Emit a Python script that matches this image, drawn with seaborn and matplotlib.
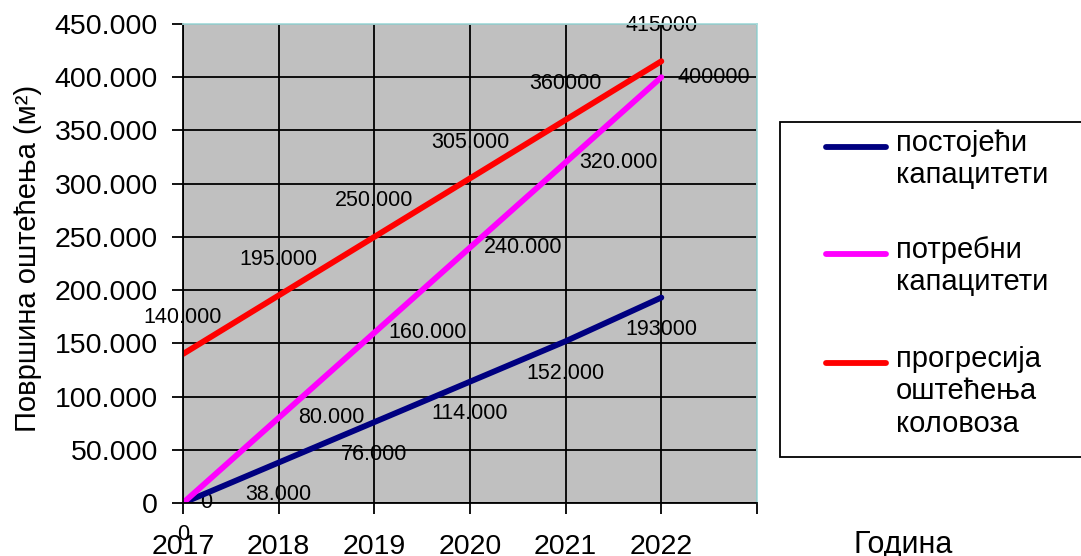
import matplotlib
matplotlib.use("Agg")
import matplotlib.pyplot as plt
import seaborn as sns
import pandas as pd
from matplotlib.lines import Line2D
from matplotlib.patches import Rectangle
from matplotlib.ticker import FuncFormatter

years = [2017, 2018, 2019, 2020, 2021, 2022]
postojeci = [0, 38000, 76000, 114000, 152000, 193000]
potrebni = [0, 80000, 160000, 240000, 320000, 400000]
progresija = [140000, 195000, 250000, 305000, 360000, 415000]

series_names = ["постојећи\nкапацитети", "потребни\nкапацитети", "прогресија\nоштећења\nколовоза"]
colors = ["#000080", "#ff00ff", "#ff0000"]

# data labels as they appear on the chart (mixed formatting in the original)
lbl_postojeci = ["0", "38.000", "76.000", "114.000", "152.000", "193000"]
lbl_potrebni = ["0", "80.000", "160.000", "240.000", "320.000", "400000"]
lbl_progresija = ["140.000", "195.000", "250.000", "305.000", "360000", "415000"]

rows = []
for name, vals in zip(series_names, [postojeci, potrebni, progresija]):
    for y, v in zip(years, vals):
        rows.append({"Година": y, "value": v, "series": name})
df = pd.DataFrame(rows)

sns.set_theme(style="ticks")
plt.rcParams['font.family'] = ['Liberation Sans', 'DejaVu Sans']
for k in ["text.color", "axes.labelcolor", "xtick.color", "ytick.color"]:
    plt.rcParams[k] = "black"

W, H = 1081, 556
fig = plt.figure(figsize=(W / 100, H / 100), dpi=100)
ax = fig.add_axes([183 / W, 1 - 503 / H, (757 - 183) / W, (503 - 24) / H])
ax.set_facecolor("#c0c0c0")

sns.lineplot(data=df, x="Година", y="value", hue="series", palette=colors,
             linewidth=4.2, ax=ax, legend=False, zorder=2)

ax.set_xlim(2017, 2023)
ax.set_ylim(0, 450000)
ax.set_xticks(years + [2023])
ax.set_xticklabels([str(y) for y in years] + [""])
ax.set_yticks(range(0, 450001, 50000))
ax.yaxis.set_major_formatter(FuncFormatter(lambda v, p: "0" if v == 0 else f"{int(v):,}".replace(",", ".")))

ax.set_axisbelow("line")
ax.grid(True, color="black", linewidth=1.3)
ax.tick_params(axis="both", direction="out", length=8, width=1.3, color="black", labelsize=20.5)
ax.tick_params(axis="x", pad=14)
ax.tick_params(axis="y", pad=10)
for s in ["left", "bottom"]:
    ax.spines[s].set_color("black")
    ax.spines[s].set_linewidth(1.3)
for s in ["top", "right"]:
    ax.spines[s].set_color("#a8dcdc")
    ax.spines[s].set_linewidth(1.3)

ax.set_xlabel("")
ax.set_ylabel("")
fig.text(28 / W, 1 - 258 / H, "Површина оштећења (м²)", fontsize=21, rotation=90,
         ha="center", va="center")

fs = 15.5
# postojeci: below points (first one to the right)
for i, (x, v, t) in enumerate(zip(years, postojeci, lbl_postojeci)):
    off = (17, 0) if i == 0 else (0, -23)
    ax.annotate(t, (x, v), xytext=off, textcoords="offset points", ha="center", va="center",
                fontsize=fs, zorder=1, annotation_clip=False)
# potrebni: right of points (first one below)
for i, (x, v, t) in enumerate(zip(years, potrebni, lbl_potrebni)):
    off = (0, -23) if i == 0 else (38, 0)
    ax.annotate(t, (x, v), xytext=off, textcoords="offset points", ha="center", va="center",
                fontsize=fs, zorder=1, annotation_clip=False)
# progresija: above points
for x, v, t in zip(years, progresija, lbl_progresija):
    ax.annotate(t, (x, v), xytext=(0, 26), textcoords="offset points", ha="center", va="center",
                fontsize=fs, zorder=1, annotation_clip=False)

# legend box drawn in figure pixels
fig.patches.append(Rectangle((780 / W, 1 - 457 / H), (1090 - 780) / W, (457 - 122) / H,
                             transform=fig.transFigure, facecolor="white",
                             edgecolor="black", linewidth=1.3))
entry_y = [147, 254, 363]
for name, c, yy in zip(series_names, colors, entry_y):
    fig.lines.append(Line2D([826 / W, 886 / W], [1 - yy / H, 1 - yy / H],
                            transform=fig.transFigure, color=c, linewidth=4.2))
    fig.text(896 / W, 1 - (yy - 18) / H, name, fontsize=21, ha="left", va="top",
             linespacing=1.2)

fig.text(853 / W, 1 - 530 / H, "Година", fontsize=22, ha="left", va="top")

fig.savefig("out.png", dpi=100)
